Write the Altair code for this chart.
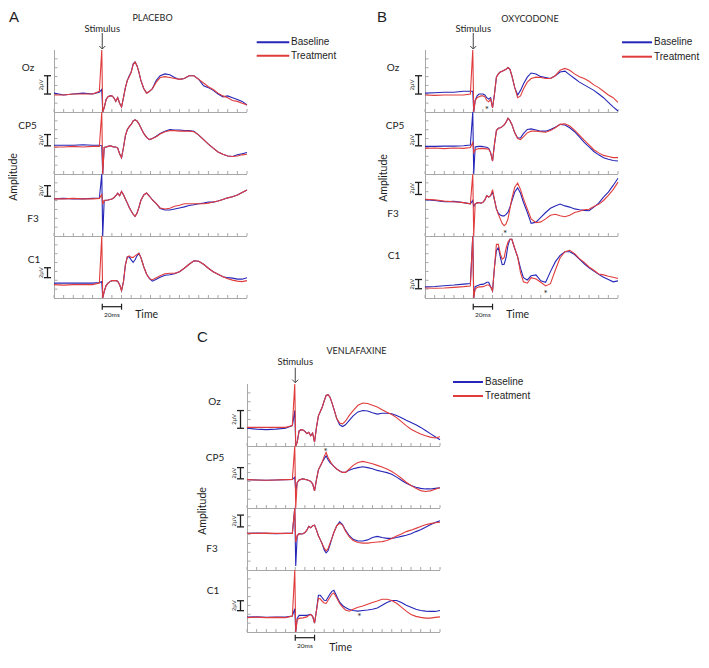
import altair as alt
import pandas as pd

# ---------------- data ----------------
# common time grid (ms relative to stimulus)
T = [-50, -40, -30, -20, -10, -3, -0.5, 0.5,
     2, 4, 6, 8, 10, 12, 14, 16, 18, 20, 22, 24, 26, 28, 30, 32, 34, 36, 38, 40,
     43, 46, 49, 52, 56, 60, 65,
     70, 75, 80, 85, 90, 95, 100, 105, 110, 115, 120, 125, 130, 135, 140, 145, 150]

CHANNELS = ["Oz", "CP5", "F3", "C1"]
SERIES = ["Baseline", "Treatment"]

# ---- A: placebo (amplitude, µV) ----
A_OZ_BASE = [0.1, -0.1, 0, 0.1, 0, 0.2, 0.5, -2.5,
             -1.5, -0.6, -0.3, -0.2, -0.2, -0.4, -0.8, -0.4, -1.0, -1.4, -0.4, 0.7, 1.5, 2.0, 2.4, 3.3, 3.5, 3.1, 2.4, 1.5,
             0.6, 0.1, 0.3, 0.6, 1.5, 2.0, 2.2,
             2.1, 1.8, 1.6, 1.7, 2.0, 2.0, 1.6, 0.9, 0.7, 0.4, 0, -0.3, -0.2, -0.4, -0.6, -0.8, -1.2]
A_OZ_TREAT = [-0.1, -0.1, 0, 0, 0, 0.3, 5.2, -2.5,
              -1.5, -0.6, -0.3, -0.2, -0.2, -0.4, -0.8, -0.4, -1.0, -1.4, -0.4, 0.7, 1.5, 1.9, 2.4, 3.2, 3.5, 3.1, 2.4, 1.5,
              0.6, 0.1, 0.3, 0.6, 1.3, 1.8, 1.9,
              1.8, 1.7, 1.6, 1.7, 2.0, 2.0, 1.6, 1.2, 0.8, 0.5, 0.1, -0.2, -0.4, -0.7, -0.8, -1.0, -1.2]
A_CP5_BASE = [0.1, 0.1, 0.1, 0.2, 0.1, 0.1, 0, -6,
              -0.3, -0.2, -0.1, 0, -0.1, -0.2, -0.2, -0.4, -1.4, -2.1, -0.3, 1.8, 2.9, 3.4, 3.8, 4.4, 4.6, 4.4, 3.9, 3.2,
              2.2, 1.5, 1.1, 1.3, 1.7, 2.2, 2.6,
              2.9, 2.8, 2.8, 2.7, 2.7, 2.6, 1.9, 1.1, 0.3, -0.4, -1.1, -1.5, -1.8, -1.9, -1.6, -1.4, -1.2]
A_CP5_TREAT = [-0.2, -0.2, -0.1, -0.2, -0.1, -0.1, 7, -6,
               -0.3, -0.2, -0.1, 0, -0.1, -0.2, -0.2, -0.4, -1.4, -2.1, -0.3, 1.8, 2.9, 3.4, 3.8, 4.4, 4.6, 4.4, 3.9, 3.2,
               2.2, 1.5, 1.1, 1.3, 1.6, 2.1, 2.5,
               2.7, 2.7, 2.6, 2.6, 2.6, 2.5, 1.9, 1.1, 0.3, -0.4, -1.1, -1.5, -1.8, -1.9, -1.8, -1.6, -1.5]
A_F3_BASE = [0, 0.1, 0, 0, 0.1, 0.1, 5, -8,
             -0.3, -0.25, -0.2, -0.1, 0, 0.2, 0.6, 1.1, 0.6, 1.4, 0.8, 0, -0.8, -1.6, -2.3, -2.9, -3.3, -2.7, -1.6, -0.3,
             0.75, 1.1, 0.5, -0.2, -0.9, -1.8, -2.1,
             -2.1, -1.9, -1.7, -1.5, -1.25, -1.1, -0.9, -0.8, -0.6, -0.6, -0.4, -0.1, 0.2, 0.4, 0.75, 1.2, 1.7]
A_F3_TREAT = [0, 0, 0.1, 0, 0, 0.1, 0.8, -1.0,
              -0.3, -0.25, -0.2, -0.1, 0, 0.2, 0.6, 1.1, 0.6, 1.4, 0.8, 0, -0.8, -1.6, -2.3, -2.9, -3.3, -2.7, -1.6, -0.3,
              0.75, 1.1, 0.5, -0.2, -0.9, -1.7, -1.9,
              -1.75, -1.4, -1.2, -0.9, -0.9, -0.9, -0.9, -0.9, -0.8, -0.6, -0.4, -0.1, 0.2, 0.4, 0.75, 1.2, 1.7]
A_C1_BASE = [0.2, 0.2, 0.2, 0.2, 0.2, 0.3, 0.5, -4,
             -1.5, -0.3, 0.2, 0.5, 0.7, 0.7, 0.7, 0.6, -0.1, -1.3, 0.5, 3.9, 5.5, 5.5, 4.9, 4.4, 4.9, 5.7, 6.2, 5.4,
             3.5, 2.0, 1.1, 0.6, 1.0, 1.4, 1.8,
             1.9, 2.1, 2.5, 3.2, 4.0, 4.7, 4.6, 4.0, 3.2, 2.5, 2.0, 1.5, 1.3, 1.2, 1.0, 1.0, 1.3]
A_C1_TREAT = [-0.1, -0.2, -0.1, -0.1, -0.1, 0.2, 11, -4,
              -1.5, -0.3, 0.2, 0.5, 0.7, 0.7, 0.7, 0.6, -0.1, -1.3, 0.5, 3.9, 5.5, 5.7, 5.4, 5.4, 5.7, 6.0, 6.2, 5.4,
              3.5, 2.0, 1.1, 0.9, 1.3, 1.7, 2.1,
              2.2, 2.2, 2.5, 3.2, 4.0, 4.7, 4.6, 4.0, 3.2, 2.5, 2.0, 1.5, 1.1, 0.8, 0.6, 0.5, 0.7]

# ---- B: oxycodone ----
B_OZ_BASE = [0.1, 0.15, 0.2, 0.2, 0.3, 0.3, 0.3, -2.5,
             -0.7, -0.2, 0, 0, 0, -0.1, -0.4, -0.55, -0.4, -1.5, 0, 1.85, 2.2, 2.4, 2.5, 2.6, 2.7, 2.9, 2.7, 2.0,
             0.7, -0.1, 0.4, 1.1, 1.85, 2.3, 2.2,
             1.9, 1.8, 1.7, 2.0, 2.4, 2.5, 2.1, 1.7, 1.3, 1.0, 0.7, 0.4, 0, -0.4, -0.9, -1.4, -1.85]
B_OZ_TREAT = [-0.1, -0.15, -0.1, -0.1, -0.1, 0, 5.2, -2.5,
              -0.7, -0.4, -0.3, -0.2, -0.2, -0.3, -0.7, -0.85, -0.55, -1.5, 0, 1.85, 2.2, 2.4, 2.5, 2.6, 2.7, 2.9, 2.7, 2.0,
              0.7, -0.4, -0.2, 0.55, 1.3, 1.7, 1.85,
              1.8, 1.7, 1.7, 2.0, 2.6, 2.8, 2.6, 2.2, 1.9, 1.7, 1.4, 1.0, 0.7, 0.3, -0.1, -0.4, -0.9]
B_CP5_BASE = [0.1, 0.1, 0.15, 0.15, 0.2, 0.35, 7, -6,
              0, 0.05, 0.1, 0.1, 0.05, 0, -0.05, -0.25, -1.0, -2.5, 0.5, 2.9, 3.3, 3.4, 3.6, 3.9, 4.4, 5.1, 4.7, 4.0,
              2.5, 1.6, 1.6, 2.35, 3.1, 3.2, 3.0,
              2.8, 2.8, 3.1, 3.5, 4.0, 3.9, 3.4, 2.7, 1.8, 0.8, 0, -0.8, -1.4, -1.9, -2.2, -2.4, -2.5]
B_CP5_TREAT = [-0.25, -0.2, -0.3, -0.2, -0.25, -0.1, 0.8, -1.0,
               -0.5, -0.35, -0.3, -0.25, -0.3, -0.3, -0.35, -0.4, -1.0, -2.5, 0.5, 2.9, 3.3, 3.4, 3.6, 3.9, 4.4, 5.1, 4.7, 4.0,
               2.5, 1.5, 1.3, 1.8, 2.5, 2.8, 2.8,
               2.7, 2.6, 2.9, 3.4, 4.0, 4.1, 3.7, 3.0, 2.1, 1.2, 0.35, -0.5, -1.05, -1.5, -1.7, -1.9, -1.9]
B_F3_BASE = [0.15, 0, -0.2, -0.15, -0.35, -0.55, 0, -1,
             -0.55, -0.4, -0.35, -0.45, -0.3, 0.1, 0.8, 0.55, 0.8, 1.4, 0.1, -1.4, -2.1, -2.4, -2.55, -2.55, -2.3, -1.95, -1.1, -0.1,
             1.4, 2.1, 1.2, -0.3, -1.95, -3.8, -3.6,
             -2.8, -2.0, -1.3, -0.9, -0.6, -0.9, -1.1, -1.4, -1.55, -1.65, -1.7, -1.1, -0.45, 0.55, 1.4, 2.5, 3.7]
B_F3_TREAT = [0.2, 0.1, -0.1, -0.2, -0.35, -0.55, 5, -7,
              -0.55, -0.4, -0.35, -0.45, -0.3, 0.1, 0.8, 0.55, 0.8, 1.8, 0.1, -1.4, -2.3, -3.05, -3.8, -4.2, -3.9, -3.05, -1.4, 0.3,
              2.2, 2.9, 1.8, 0.3, -1.4, -3.05, -3.7,
              -3.55, -3.05, -2.45, -2.3, -2.55, -2.7, -2.45, -2.0, -1.8, -1.55, -1.45, -1.0, -0.65, 0, 0.85, 1.8, 3.05]
B_C1_BASE = [0.3, 0.4, 0.55, 0.7, 0.9, 1.05, 12, -3,
             0.35, 0.55, 0.7, 0.85, 0.85, 1.05, 1.3, 1.3, 0.35, -0.55, 4.6, 8.2, 8.8, 6.8, 5.1, 5.2, 6.6, 9.3, 10.6, 10.6,
             8.6, 6.8, 4.3, 2.3, 1.8, 2.7, 2.9,
             1.6, 1.3, 3.6, 5.7, 7.1, 7.9, 7.9, 7.3, 6.3, 5.3, 4.4, 3.7, 3.0, 2.4, 1.9, 1.4, 1.6]
B_C1_TREAT = [0.05, 0, 0.05, 0.2, 0.35, 0.5, 12, -3,
              -0.15, 0.15, 0.3, 0.3, 0.35, 0.5, 0.7, 0.7, 0.35, -0.55, 4.6, 9.5, 9.5, 7.5, 6.3, 6.6, 8.6, 10, 10.6, 10.6,
              8.6, 6.8, 3.4, 1.4, 1.1, 2.3, 2.0,
              1.3, 0.5, 1.0, 3.9, 6.6, 7.9, 8.2, 7.5, 6.4, 5.6, 4.6, 3.9, 3.1, 2.9, 2.6, 2.4, 2.1]

# ---- C: venlafaxine ----
C_OZ_BASE = [0, -0.1, -0.15, -0.1, 0, 0.3, 2.0, -2.5,
             -1.6, -0.3, -0.15, -0.2, -0.35, -0.6, -0.45, -0.85, -0.55, -1.55, 0.1, 1.4, 1.9, 2.4, 3.1, 3.7, 3.8, 3.5, 2.9, 2.2,
             1.1, 0.4, 0.2, 0.4, 0.9, 1.4, 1.85,
             2.0, 1.95, 1.75, 1.6, 1.7, 1.7, 1.65, 1.45, 1.2, 0.9, 0.65, 0.4, 0.1, -0.25, -0.6, -0.95, -1.3]
C_OZ_TREAT = [0.1, 0.1, 0.1, 0.1, 0.1, 0.3, 5.5, -2.5,
              -1.6, -0.3, -0.15, -0.2, -0.35, -0.6, -0.45, -0.85, -0.55, -1.55, 0.1, 1.4, 1.9, 2.4, 3.1, 3.7, 3.8, 3.5, 2.9, 2.2,
              1.1, 0.6, 0.5, 0.8, 1.45, 2.0, 2.6,
              2.85, 2.8, 2.6, 2.4, 2.1, 1.8, 1.55, 1.2, 0.75, 0.3, -0.1, -0.4, -0.65, -0.85, -1.0, -1.1, -0.95]
C_CP5_BASE = [0.05, 0, -0.05, 0, 0.05, 0.1, 0.5, -2,
              -0.5, 0, 0.1, 0.2, 0.1, 0.05, -0.1, -0.25, -0.7, -1.95, 0.05, 1.8, 2.5, 3.2, 3.8, 4.3, 3.6, 3.1, 2.8, 2.4,
              1.95, 1.6, 1.35, 1.35, 1.75, 2.0, 2.2,
              2.35, 2.2, 2.0, 1.7, 1.5, 1.3, 1.0, 0.5, -0.05, -0.6, -1.0, -1.3, -1.5, -1.6, -1.6, -1.5, -1.4]
C_CP5_TREAT = [0.05, 0, -0.05, 0, 0.05, 0.1, 7, -6,
               -0.5, 0, 0.1, 0.2, 0.1, 0.05, -0.1, -0.25, -0.7, -1.95, 0.05, 1.8, 2.5, 3.2, 4.2, 4.9, 4.0, 3.4, 2.8, 2.4,
               1.95, 1.6, 1.35, 1.35, 1.95, 2.6, 3.1,
               3.3, 3.1, 2.9, 2.6, 2.3, 1.95, 1.5, 0.95, 0.3, -0.4, -1.0, -1.5, -1.9, -2.05, -1.95, -1.65, -1.4]
C_F3_BASE = [0, 0.05, 0, -0.05, 0, 0, 5, -5.5,
             -0.4, -0.05, -0.1, -0.05, 0.15, 0.55, 1.2, 0.95, 1.3, 1.4, 0.55, -0.4, -1.1, -1.8, -2.8, -3.3, -2.95, -1.95, -0.85, 0.15,
             1.3, 1.95, 1.5, 0.55, -0.4, -1.0, -1.3,
             -1.3, -1.1, -0.7, -0.5, -0.7, -0.85, -0.85, -0.7, -0.5, -0.3, -0.05, 0.3, 0.6, 1.05, 1.45, 1.85, 2.15]
C_F3_TREAT = [0, 0, 0.05, 0, 0, 0, 5, -1.5,
              -0.4, -0.05, -0.1, -0.05, 0.15, 0.55, 1.2, 0.95, 1.3, 1.4, 0.55, -0.4, -1.1, -1.8, -2.5, -2.95, -2.6, -1.65, -0.85, 0.15,
              1.3, 1.7, 1.4, 0.4, -0.6, -1.2, -1.55,
              -1.65, -1.65, -1.55, -1.45, -1.4, -1.2, -0.85, -0.45, -0.1, 0.3, 0.55, 0.85, 1.15, 1.45, 1.65, 1.8, 1.9]
C_C1_BASE = [0, 0.05, -0.05, 0, 0, 0.2, 1.7, -4,
             -0.25, 0.35, 0.35, 0.35, 0.35, 0.35, 0.45, 0.55, 0.15, -1.2, 1.35, 4.4, 4.4, 3.9, 3.4, 3.35, 4.0, 4.65, 5.2, 5.4,
             4.2, 3.0, 2.35, 1.95, 1.55, 1.35, 1.2,
             1.35, 1.45, 1.6, 1.85, 2.4, 2.95, 3.35, 3.35, 2.95, 2.4, 2.0, 1.6, 1.35, 1.2, 1.15, 1.15, 1.35]
C_C1_TREAT = [-0.1, 0, -0.1, -0.05, -0.1, 0.2, 10.5, -4,
              -0.55, -0.25, -0.2, -0.15, -0.05, 0.05, 0.35, 0.55, 0.15, -1.2, 1.35, 3.8, 3.65, 3.2, 2.85, 2.75, 3.4, 4.0, 4.65, 4.85,
              3.85, 2.75, 2.0, 1.45, 1.2, 1.6, 2.0,
              2.25, 2.6, 2.95, 3.25, 3.6, 3.6, 3.35, 2.8, 2.0, 1.2, 0.55, 0.15, -0.05, -0.2, -0.2, -0.05, 0.05]

# amplitude range shown in each row (µV), Oz, CP5, F3, C1
A_DOMAINS = [(-1.96, 4.81), (-5.0, 6.0), (-7.0, 4.7), (-2.8, 9.7)]
B_DOMAINS = [(-1.96, 4.81), (-4.8, 6.2), (-5.9, 4.4), (-2.1, 11.3)]
C_DOMAINS = [(-2.0, 5.0), (-5.0, 6.05), (-6.2, 4.3), (-3.0, 9.5)]
# lower end of the 2 µV calibration bar in each row
A_BAR_START = [0, 0, 0.5, 1.3]
B_BAR_START = [0, 0.2, 1.0, -0.1]
C_BAR_START = [0, 0.2, 1.1, 1.3]
SCALE_UV = 2
SCALE_MS = (0, 20)
# significance markers: (row, time ms)
B_STARS = [(0, 14), (2, 33), (3, 75)]
C_STARS = [(1, 31.5), (3, 66.5)]
X_DOMAIN = [-50, 150]
XTICKS = list(range(-50, 151, 10))

for nm, arr in list(globals().items()):
    if nm.endswith("_BASE") or nm.endswith("_TREAT"):
        assert len(arr) == len(T), (nm, len(arr))

# ---------------- layout & style ----------------
W, H = 693, 646
PLOT_W, ROW_H = 193, 62
BLUE = "#2626b8"
RED = "#e03c3c"
GREY = "#a8a8a8"
INK = "#1e1e1e"
ARROW = "#444444"
LATO = "Lato"
SANS = "Liberation Sans"
ONE = pd.DataFrame({"k": [0]})

PANELS = [
    dict(letter="A", title="PLACEBO", x0=46, y0=42, letter_xy=(1, 2), title_xy=(144.5, 9.5),
         stim_y=20.5, arrow=(25, 41), legend_x=(248.7, 281.3, 283), legend_y=(34.3, 47.7),
         label_dx=[-26, -26.5, -21, -20], label_dy=[18, 14, 45, 24], amp_xy=(5.5, 169),
         bar_y=298.7, ms_y=307, time_y=306.5, time_t=46,
         channels=[(A_OZ_BASE, A_OZ_TREAT), (A_CP5_BASE, A_CP5_TREAT), (A_F3_BASE, A_F3_TREAT), (A_C1_BASE, A_C1_TREAT)],
         domains=A_DOMAINS, bars=A_BAR_START, stars=[], star_y={}),
    dict(letter="B", title="OXYCODONE", x0=417, y0=42, letter_xy=(369, 2), title_xy=(522, 10.5),
         stim_y=20.5, arrow=(25, 41), legend_x=(614, 644, 646), legend_y=(34.3, 48.7),
         label_dx=[-32, -30, -32, -31], label_dy=[18, 14, 40, 20], amp_xy=(376, 170),
         bar_y=298.7, ms_y=307, time_y=306.5, time_t=46,
         channels=[(B_OZ_BASE, B_OZ_TREAT), (B_CP5_BASE, B_CP5_TREAT), (B_F3_BASE, B_F3_TREAT), (B_C1_BASE, B_C1_TREAT)],
         domains=B_DOMAINS, bars=B_BAR_START, stars=B_STARS, star_y={0: 102.3, 2: 225.7, 3: 286.3}),
    dict(letter="C", title="VENLAFAXINE", x0=239, y0=376, letter_xy=(189, 322), title_xy=(348.5, 343),
         stim_y=354, arrow=(359.7, 374.7), legend_x=(445, 475, 477), legend_y=(374, 388),
         label_dx=[-32.5, -32, -35, -34], label_dy=[18, 12, 41, 21], amp_xy=(194.5, 503),
         bar_y=629.7, ms_y=638, time_y=639.5, time_t=47,
         channels=[(C_OZ_BASE, C_OZ_TREAT), (C_CP5_BASE, C_CP5_TREAT), (C_F3_BASE, C_F3_TREAT), (C_C1_BASE, C_C1_TREAT)],
         domains=C_DOMAINS, bars=C_BAR_START, stars=C_STARS, star_y={1: 443.7, 3: 609.3}),
]


def label(s, x, y, size, font=LATO, align="center", baseline="middle", angle=0, data=ONE):
    return alt.Chart(data).mark_text(text=s, font=font, fontSize=size, align=align,
                                     baseline=baseline, angle=angle, color=INK).encode(x=x, y=y)


def row_chart(p, k):
    base, treat = p["channels"][k]
    lo, hi = p["domains"][k]
    x0 = p["x0"]
    top = p["y0"] + ROW_H * k
    bottom = top + ROW_H
    xs = alt.Scale(domain=X_DOMAIN, range=[x0, x0 + PLOT_W], clamp=True, nice=False, zero=False)
    ys = alt.Scale(domain=[lo, hi], range=[bottom, top], clamp=True, nice=False, zero=False)

    def X(f):
        return alt.X(f, scale=xs, axis=None)

    def Y(f):
        return alt.Y(f, scale=ys, axis=None)

    df = pd.DataFrame({"t": T, "baseline": base, "treatment": treat})
    yticks = [lo + (hi - lo) * i / 7 for i in range(1, 7)]
    layers = [
        # axis lines and inward ticks, positioned through the row's scales
        alt.Chart(pd.DataFrame({"t0": [X_DOMAIN[0]], "t1": [X_DOMAIN[1]]})).mark_rule(
            color=GREY, strokeWidth=1).encode(x=X("t0:Q"), x2=alt.X2("t1"), y=alt.value(bottom + 0.5)),
        alt.Chart(pd.DataFrame({"t": XTICKS})).mark_rule(color=GREY, strokeWidth=1).encode(
            x=X("t:Q"), y=alt.value(bottom), y2=alt.value(bottom - 3)),
        alt.Chart(pd.DataFrame({"v0": [lo], "v1": [hi]})).mark_rule(color=GREY, strokeWidth=1).encode(
            x=alt.value(x0 + 0.5), y=Y("v0:Q"), y2=alt.Y2("v1")),
        alt.Chart(pd.DataFrame({"v": yticks})).mark_rule(color=GREY, strokeWidth=1).encode(
            x=alt.value(x0), x2=alt.value(x0 + 3.5), y=Y("v:Q")),
        # traces
        alt.Chart(df).mark_line(color=BLUE, strokeWidth=1.1).encode(x=X("t:Q"), y=Y("baseline:Q")),
        alt.Chart(df).mark_line(color=RED, strokeWidth=1.1).encode(x=X("t:Q"), y=Y("treatment:Q")),
    ]
    # 2 µV calibration bar
    s = p["bars"][k]
    layers.append(alt.Chart(pd.DataFrame({"y0": [s], "y1": [s + SCALE_UV]})).mark_rule(
        color=INK, strokeWidth=1.3).encode(x=alt.value(x0 - 6.5), y=Y("y0:Q"), y2=alt.Y2("y1")))
    layers.append(alt.Chart(pd.DataFrame({"y": [s, s + SCALE_UV]})).mark_rule(
        color=INK, strokeWidth=1.3).encode(x=alt.value(x0 - 10), x2=alt.value(x0 - 3), y=Y("y:Q")))
    layers.append(label("2µV", alt.value(x0 - 13.5), Y("y:Q"), 6, font=SANS, angle=270,
                        data=pd.DataFrame({"y": [s + SCALE_UV / 2]})))
    # channel name
    layers.append(label(CHANNELS[k], alt.value(x0 + p["label_dx"][k]), alt.value(top + p["label_dy"][k]), 10))

    if k == 0:
        zero = pd.DataFrame({"t": [0]})
        a0, a1 = p["arrow"]
        lx, ly = p["letter_xy"]
        tx, ty = p["title_xy"]
        layers += [
            label(p["letter"], alt.value(lx), alt.value(ly), 15, font=SANS, align="left", baseline="top"),
            label(p["title"], alt.value(tx), alt.value(ty), 9),
            label("Stimulus", X("t:Q"), alt.value(p["stim_y"]), 9.5, data=zero),
            alt.Chart(zero).mark_rule(color=ARROW, strokeWidth=1).encode(
                x=X("t:Q"), y=alt.value(a0), y2=alt.value(a1)),
            alt.Chart(zero).mark_point(shape="M-1,-1L0,0L1,-1", filled=False, size=36, color=ARROW,
                                       strokeWidth=1, opacity=1).encode(x=X("t:Q"), y=alt.value(a1)),
        ]
        l0, l1, ltx = p["legend_x"]
        for yv, col, name in zip(p["legend_y"], [BLUE, RED], SERIES):
            layers.append(alt.Chart(ONE).mark_rule(color=col, strokeWidth=2).encode(
                x=alt.value(l0), x2=alt.value(l1), y=alt.value(yv)))
            layers.append(label(name, alt.value(ltx), alt.value(yv), 10, font=SANS, align="left"))
    if k == 1:
        ax, ay = p["amp_xy"]
        layers.append(label("Amplitude", alt.value(ax), alt.value(ay), 10.5, angle=270))
    if k == 3:
        by = p["bar_y"]
        layers.append(alt.Chart(pd.DataFrame({"t0": [SCALE_MS[0]], "t1": [SCALE_MS[1]]})).mark_rule(
            color=INK, strokeWidth=1.2).encode(x=X("t0:Q"), x2=alt.X2("t1"), y=alt.value(by)))
        layers.append(alt.Chart(pd.DataFrame({"t": list(SCALE_MS)})).mark_rule(
            color=INK, strokeWidth=1.2).encode(x=X("t:Q"), y=alt.value(by - 3), y2=alt.value(by + 3)))
        layers.append(label("20ms", X("t:Q"), alt.value(p["ms_y"]), 6.5,
                            data=pd.DataFrame({"t": [(SCALE_MS[0] + SCALE_MS[1]) / 2]})))
        layers.append(label("Time", X("t:Q"), alt.value(p["time_y"]), 10.5,
                            data=pd.DataFrame({"t": [p["time_t"]]})))
    for (r, t) in p["stars"]:
        if r == k:
            layers.append(label("*", X("t:Q"), alt.value(p["star_y"][r]), 10, data=pd.DataFrame({"t": [t]})))
    return alt.layer(*layers)


rows = [row_chart(p, k) for p in PANELS for k in range(4)]

chart = alt.layer(*rows).resolve_scale(x="independent", y="independent").properties(
    width=W, height=H, padding=0
).configure_view(stroke=None)

chart.save("out.html", embed_options={"renderer": "svg", "actions": False})
